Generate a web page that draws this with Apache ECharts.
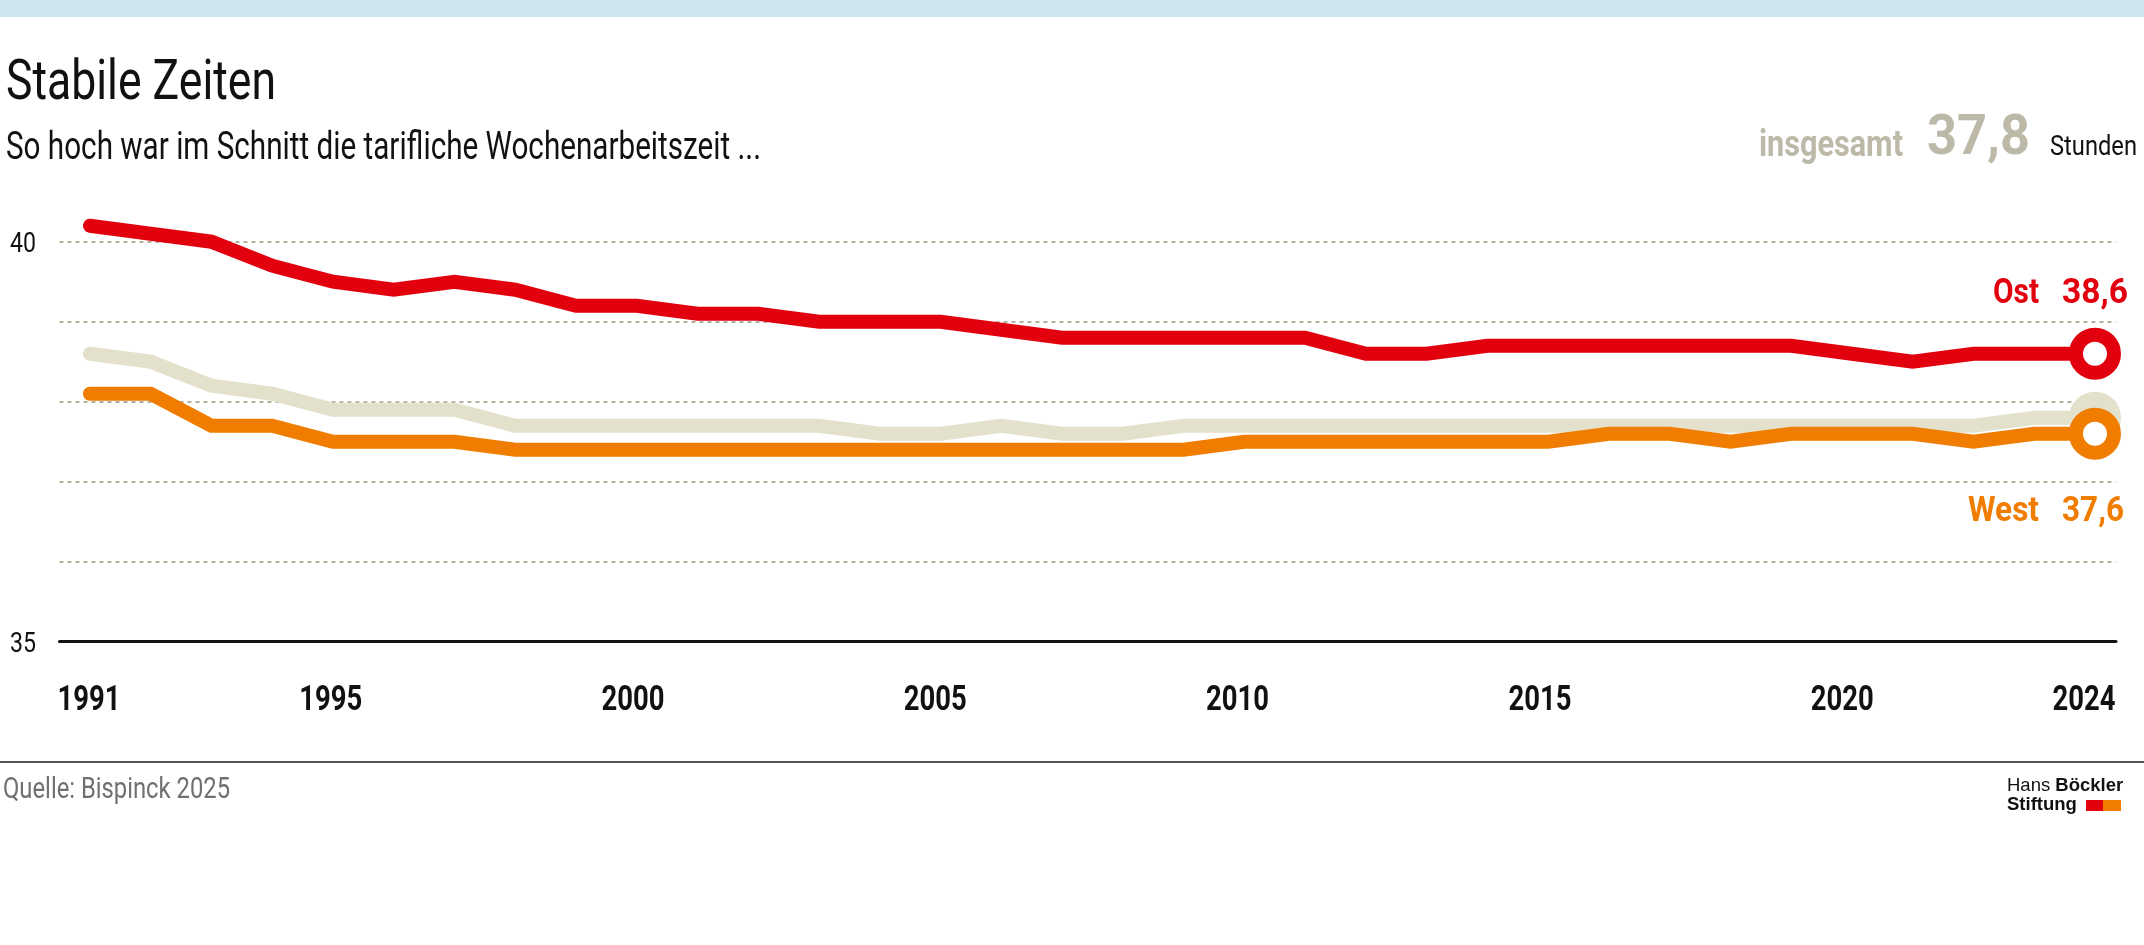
<!DOCTYPE html>
<html>
<head>
<meta charset="utf-8">
<script src="https://cdn.jsdelivr.net/npm/echarts@6/dist/echarts.min.js"></script>
<style>
html,body{margin:0;padding:0;background:#fff;}
#c{width:2144px;height:945px;}
</style>
</head>
<body>
<div id="c"></div>
<script>
// ---- data ----
const years = [1991,1992,1993,1994,1995,1996,1997,1998,1999,2000,2001,2002,2003,2004,2005,2006,2007,2008,2009,2010,2011,2012,2013,2014,2015,2016,2017,2018,2019,2020,2021,2022,2023,2024];
const ost    = [40.2,40.1,40.0,39.7,39.5,39.4,39.5,39.4,39.2,39.2,39.1,39.1,39.0,39.0,39.0,38.9,38.8,38.8,38.8,38.8,38.8,38.6,38.6,38.7,38.7,38.7,38.7,38.7,38.7,38.6,38.5,38.6,38.6,38.6];
const west   = [38.1,38.1,37.7,37.7,37.5,37.5,37.5,37.4,37.4,37.4,37.4,37.4,37.4,37.4,37.4,37.4,37.4,37.4,37.4,37.5,37.5,37.5,37.5,37.5,37.5,37.6,37.6,37.5,37.6,37.6,37.6,37.5,37.6,37.6];
const gesamt = [38.6,38.5,38.2,38.1,37.9,37.9,37.9,37.7,37.7,37.7,37.7,37.7,37.7,37.6,37.6,37.7,37.6,37.6,37.7,37.7,37.7,37.7,37.7,37.7,37.7,37.7,37.7,37.7,37.7,37.7,37.7,37.7,37.8,37.8];
const yearTicks = [1991,1995,2000,2005,2010,2015,2020,2024];
const yTickLabels = [35,40];

const F = 'Roboto,"Liberation Sans",Arial,sans-serif';
const LOGOF = '"Liberation Sans",Arial,sans-serif';
const RED = '#e2000f', ORANGE = '#f07d00', BEIGE = '#e3e0cc', LABELGRAY = '#bcb9a8';

const fmt = v => v.toFixed(1).replace('.', ',');

// horizontal condensing of text to mimic the condensed typeface of the original
const mctx = document.createElement('canvas').getContext('2d');
function fit(text, font, target) { mctx.font = font; return target / mctx.measureText(text).width; }
function fsize(font) { const m = font.match(/([\d.]+)px/); return m ? parseFloat(m[1]) : 12; }
// y is the vertical centre of the capitals
function txt(text, x, y, font, fill, align, target, sx) {
  const s = sx !== undefined ? sx : fit(text, font, target);
  return { type: 'text', x: x, y: y + 0.063 * fsize(font), scaleX: s, silent: true,
    style: { text: text, font: font, fill: fill, align: align || 'left', verticalAlign: 'middle' } };
}

function lineSeries(name, vals, color, fill, z) {
  const last = vals.length - 1;
  return {
    name: name, type: 'line', z: z,
    data: years.map((y, i) => [y, vals[i]]),
    showAllSymbol: true,
    symbol: (v, p) => (p.dataIndex === last ? 'circle' : 'none'),
    symbolSize: 38,
    itemStyle: { color: fill, borderColor: color, borderWidth: 14 },
    lineStyle: { color: color, width: 14, cap: 'round', join: 'miter' },
    emphasis: { disabled: true },
    silent: true
  };
}

const chart = echarts.init(document.getElementById('c'), null, { renderer: 'canvas' });
chart.setOption({
  animation: false,
  backgroundColor: '#fff',
  grid: { left: 59.5, right: 28, top: 161.7, bottom: 303.3 },
  xAxis: [
    {
      type: 'value', min: 1990.5, max: 2024.346,
      axisLine: { show: true, lineStyle: { color: '#111', width: 3 } },
      axisTick: { show: false }, axisLabel: { show: false }, splitLine: { show: false }
    },
    { // label axis for the year captions
      type: 'value', position: 'bottom', min: 1990.512, max: 2024.53, show: false
    }
  ],
  yAxis: {
    type: 'value', min: 35, max: 41, interval: 1,
    axisLine: { show: false }, axisTick: { show: false }, axisLabel: { show: false },
    splitLine: { show: true, showMinLine: false, showMaxLine: false,
      lineStyle: { color: '#b3b19f', width: 2, type: [4, 4] } }
  },
  series: [
    lineSeries('insgesamt', gesamt, BEIGE, BEIGE, 2),
    lineSeries('West', west, ORANGE, '#fff', 3),
    lineSeries('Ost', ost, RED, '#fff', 4)
  ]
});

// ---- texts ----
const g = [];
g.push({ type: 'rect', shape: { x: 0, y: 0, width: 2144, height: 17 }, style: { fill: '#cde5ee' }, silent: true });
g.push(txt('Stabile Zeiten', 6, 81.5, '56px ' + F, '#111', 'left', 270));
g.push(txt('So hoch war im Schnitt die tarifliche Wochenarbeitszeit ...', 6, 147.5, '38px ' + F, '#111', 'left', 755));
g.push(txt('insgesamt', 1903, 145, 'bold 36px ' + F, LABELGRAY, 'right', 144));
g.push(txt(fmt(gesamt[gesamt.length - 1]), 2030, 136.5, 'bold 55px ' + F, LABELGRAY, 'right', 103));
g.push(txt('Stunden', 2137, 146.5, '27px ' + F, '#111', 'right', 87));
g.push(txt('Ost', 2039, 292.5, 'bold 35px ' + F, RED, 'right', 46));
g.push(txt(fmt(ost[ost.length - 1]), 2128, 292.5, 'bold 35px ' + F, RED, 'right', 66));
g.push(txt('West', 2039, 510, 'bold 35px ' + F, ORANGE, 'right', 71));
g.push(txt(fmt(west[west.length - 1]), 2124, 510, 'bold 35px ' + F, ORANGE, 'right', 62));

// y-axis tick labels (positions from the y scale)
const ySx = fit('40', '27px ' + F, 26);
yTickLabels.forEach(v => {
  const py = chart.convertToPixel({ yAxisIndex: 0 }, v);
  g.push(txt(String(v), 36, py + 1.5, '27px ' + F, '#111', 'right', 0, ySx));
});
// x-axis year labels (positions from the label axis scale)
const xSx = fit('2000', 'bold 35px ' + F, 63);
yearTicks.forEach(yr => {
  const px = chart.convertToPixel({ xAxisIndex: 1 }, yr);
  g.push(txt(String(yr), px, 699.5, 'bold 35px ' + F, '#111', 'center', 0, xSx));
});

// footer
g.push({ type: 'rect', shape: { x: 0, y: 761, width: 2144, height: 2 }, style: { fill: '#555' }, silent: true });
g.push(txt('Quelle: Bispinck 2025', 3, 788.5, '29.5px ' + F, '#707070', 'left', 227));
g.push({ type: 'text', x: 2007, y: 786, silent: true, style: {
  text: '{r|Hans }{b|Böckler}', verticalAlign: 'middle',
  rich: { r: { font: '18.5px ' + LOGOF, fill: '#111' }, b: { font: 'bold 18.5px ' + LOGOF, fill: '#111' } } } });
g.push({ type: 'text', x: 2007, y: 805, silent: true, style: { text: 'Stiftung', font: 'bold 18.5px ' + LOGOF, fill: '#111', verticalAlign: 'middle' } });
g.push({ type: 'rect', shape: { x: 2086, y: 800, width: 17, height: 11 }, style: { fill: RED }, silent: true });
g.push({ type: 'rect', shape: { x: 2103, y: 800, width: 18, height: 11 }, style: { fill: ORANGE }, silent: true });

chart.setOption({ graphic: g });
</script>
</body>
</html>
